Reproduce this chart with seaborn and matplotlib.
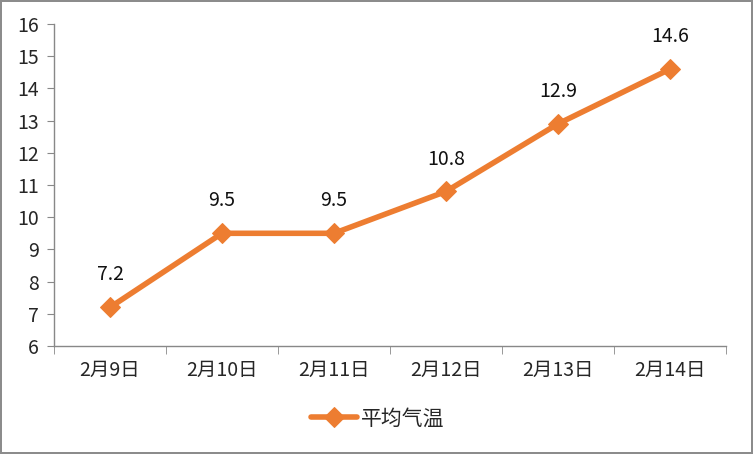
import numpy as np
import pandas as pd
import matplotlib
matplotlib.use("Agg")
import matplotlib.pyplot as plt
import seaborn as sns

# data
dates = ["2月9日", "2月10日", "2月11日", "2月12日", "2月13日", "2月14日"]
temps = [7.2, 9.5, 9.5, 10.8, 12.9, 14.6]
series_name = "平均气温"

sns.set_style("white")
plt.rcParams['font.family'] = ['Noto Sans CJK SC', 'DejaVu Sans']

df = pd.DataFrame({"pos": np.arange(len(dates)), "temp": temps, "series": series_name})

fig = plt.figure(figsize=(7.53, 4.54), dpi=100)
fig.patch.set_edgecolor("#8c8c8c")
fig.patch.set_linewidth(1.5)
ax = fig.add_axes([54/753, 1-346/454, 672/753, 322/454])

orange = "#ED7D31"
sns.lineplot(data=df, x="pos", y="temp", hue="series", palette=[orange],
             marker="D", markersize=10, linewidth=4, markeredgecolor=orange,
             ax=ax)

for x, y in zip(df["pos"], df["temp"]):
    ax.text(x, y + 0.68, f"{y:.1f}", ha="center", va="bottom", fontsize=14, color="#111111")

ax.set_xlim(-0.5, len(dates) - 0.5)
ax.set_ylim(6, 16)
ax.set_yticks(range(6, 17))
ax.tick_params(axis="y", labelsize=14, length=5, color="#888888", left=True, pad=6)
ax.set_xticks(df["pos"])
ax.set_xticklabels(dates, fontsize=14)
ax.tick_params(axis="x", which="major", length=0, pad=10)
ax.set_xticks(np.arange(-0.5, len(dates)), minor=True)
ax.tick_params(axis="x", which="minor", length=6, color="#888888", bottom=True)
ax.set_xlabel("")
ax.set_ylabel("")

for side in ["top", "right"]:
    ax.spines[side].set_visible(False)
for side in ["left", "bottom"]:
    ax.spines[side].set_color("#888888")
    ax.spines[side].set_linewidth(1)

leg = ax.legend(loc="center", bbox_to_anchor=(0.482, -0.225), frameon=False,
                fontsize=15, handlelength=2.2, handletextpad=0.2)

fig.savefig("out.png", dpi=100)
